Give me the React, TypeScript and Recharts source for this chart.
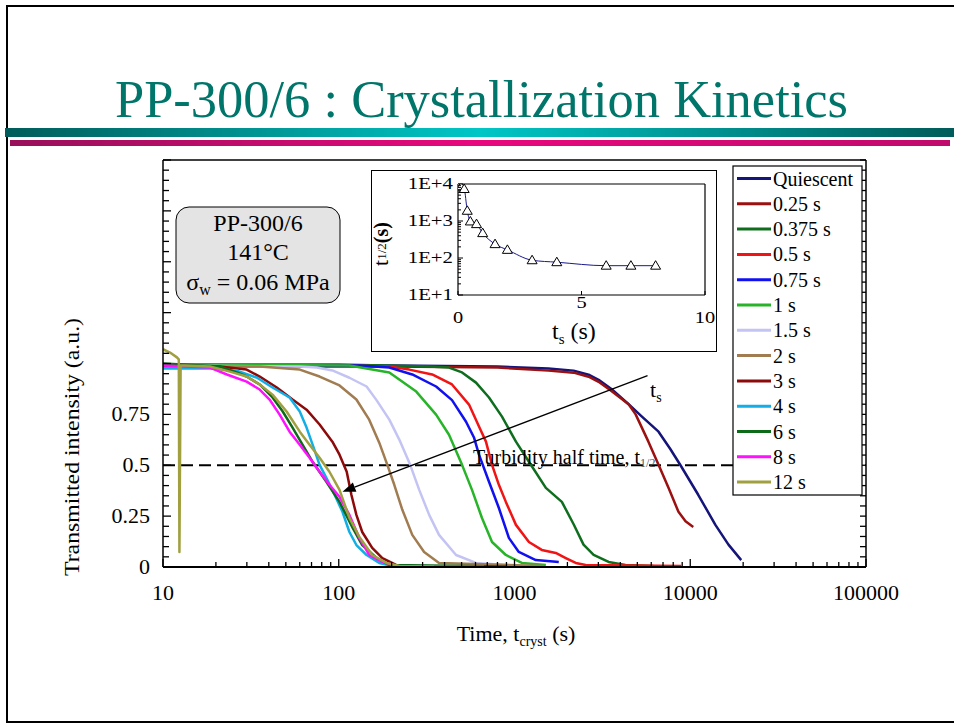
import React from "react";
import { LineChart, Line, XAxis, YAxis, ReferenceLine } from "recharts";

const FONT = "'Liberation Serif', 'Times New Roman', serif";

// ---- main chart: transmitted intensity vs crystallization time (s) ----
const quiescent: [number, number][] = [
  [10, 0.99], [50, 0.99], [200, 0.99], [800, 0.985], [1560, 0.975], [2170, 0.965],
  [2640, 0.945], [3010, 0.92], [3560, 0.875], [4460, 0.8], [5290, 0.74], [6600, 0.665],
  [7700, 0.58], [8800, 0.5], [11100, 0.355], [13900, 0.207], [16500, 0.11], [19500, 0.034],
];
const s025: [number, number][] = [
  [10, 0.985], [200, 0.985], [800, 0.98], [1560, 0.965], [2170, 0.955], [2640, 0.935],
  [3010, 0.91], [3560, 0.865], [4460, 0.8], [4890, 0.75], [5780, 0.616], [6600, 0.502],
  [7520, 0.389], [8570, 0.271], [9400, 0.225], [10400, 0.197],
];
const s0375: [number, number][] = [
  [10, 0.995], [100, 0.995], [327, 0.985], [424, 0.98], [503, 0.956], [604, 0.906],
  [716, 0.833], [849, 0.739], [1019, 0.616], [1208, 0.517], [1508, 0.389], [1860, 0.32],
  [2170, 0.21], [2470, 0.11], [2820, 0.06], [3430, 0.025], [4280, 0.01], [6170, 0.005],
];
const s05: [number, number][] = [
  [10, 0.99], [100, 0.99], [194, 0.985], [252, 0.97], [340, 0.946], [441, 0.897],
  [551, 0.798], [628, 0.69], [688, 0.616], [745, 0.502], [815, 0.404], [893, 0.32],
  [1019, 0.207], [1208, 0.123], [1429, 0.084], [1717, 0.069], [1958, 0.044], [2230, 0.02],
  [2541, 0.01], [8890, 0.005],
];
const s075: [number, number][] = [
  [10, 0.99], [131, 0.99], [194, 0.98], [262, 0.946], [358, 0.887], [441, 0.82],
  [530, 0.714], [589, 0.635], [628, 0.552], [716, 0.419], [815, 0.29], [929, 0.143],
  [1058, 0.074], [1321, 0.034], [1786, 0.025],
];
const s1: [number, number][] = [
  [10, 0.995], [115, 0.99], [194, 0.956], [276, 0.862], [358, 0.749], [424, 0.65],
  [503, 0.502], [573, 0.379], [653, 0.241], [745, 0.123], [893, 0.059], [1102, 0.02],
  [1508, 0.01],
];
const s15: [number, number][] = [
  [10, 0.99], [60, 0.985], [75, 0.98], [92, 0.966], [115, 0.93], [144, 0.887],
  [164, 0.82], [194, 0.724], [221, 0.626], [255, 0.502], [287, 0.379], [327, 0.256],
  [372, 0.158], [465, 0.059], [604, 0.02], [1058, 0.005],
];
const s2: [number, number][] = [
  [10, 0.985], [35.5, 0.985], [60, 0.97], [77.8, 0.936], [101, 0.892], [126, 0.823],
  [149, 0.724], [170, 0.611], [189, 0.502], [207, 0.404], [230, 0.281], [262, 0.158],
  [306, 0.074], [372, 0.02], [1469, 0.005],
];
const s3: [number, number][] = [
  [10, 0.99], [21, 0.985], [29.9, 0.97], [35.5, 0.936], [44.4, 0.882], [54.6, 0.823],
  [65.6, 0.773], [77.8, 0.7], [92, 0.616], [101, 0.552], [111, 0.468], [118, 0.355],
  [126, 0.256], [136, 0.172], [155, 0.094], [177, 0.044], [212, 0.01],
];
const s4: [number, number][] = [
  [10, 0.975], [18.5, 0.975], [26.3, 0.965], [34.1, 0.931], [42, 0.882], [52.5, 0.833],
  [60, 0.764], [65.6, 0.685], [71, 0.601], [77.8, 0.502], [85, 0.438], [92, 0.379],
  [105, 0.271], [115, 0.172], [126, 0.108], [144, 0.059], [170, 0.02], [202, 0.005],
  [265, 0.003],
];
const s6: [number, number][] = [
  [10, 1.0], [21, 0.985], [26.3, 0.956], [29.9, 0.936], [35.5, 0.897], [42, 0.833],
  [48, 0.764], [54.6, 0.685], [62.2, 0.601], [71, 0.517], [85, 0.419], [101, 0.32],
  [120, 0.192], [136, 0.108], [164, 0.044], [194, 0.01], [900, 0.003],
];
const s8: [number, number][] = [
  [10, 0.99], [18.5, 0.98], [23.1, 0.946], [29.9, 0.911], [35.5, 0.872], [40.4, 0.823],
  [46.1, 0.749], [52.5, 0.665], [60, 0.601], [68.2, 0.537], [77.8, 0.468], [88.5, 0.404],
  [101, 0.345], [115, 0.256], [131, 0.143], [149, 0.059], [177, 0.025], [212, 0.005],
  [670, 0.003],
];
const s12: [number, number][] = [
  [10, 1.07], [10.96, 1.054], [12, 1.03], [12.3, 1.02], [12.4, 0.074], [12.6, 0.99],
  [13.3, 0.99], [18.5, 0.985], [24, 0.96], [29.9, 0.936], [35.5, 0.897], [42, 0.847],
  [50.5, 0.764], [60, 0.665], [68.2, 0.601], [77.8, 0.537], [88.5, 0.468], [101, 0.379],
  [115, 0.241], [131, 0.148], [155, 0.059], [187, 0.02], [221, 0.005], [349, 0.003],
];

const seriesNames = [
  "Quiescent", "0.25 s", "0.375 s", "0.5 s", "0.75 s", "1 s", "1.5 s",
  "2 s", "3 s", "4 s", "6 s", "8 s", "12 s",
];
const seriesColors = [
  "#14147a", "#9c1010", "#0f6e1e", "#f01414", "#1010f0", "#28b428", "#c4c4f4",
  "#a07c50", "#8c0a0a", "#12aee6", "#0c6a18", "#ff10ff", "#a0a040",
];
const seriesPoints = [quiescent, s025, s0375, s05, s075, s1, s15, s2, s3, s4, s6, s8, s12];

const xMajorTicks = [10, 100, 1000, 10000, 100000];
const yLabelValues = [0, 0.25, 0.5, 0.75];
const yLabelTexts = ["0", "0.25", "0.5", "0.75"];

// ---- inset: turbidity half time vs shearing time ----
const insetTs = [0, 0.125, 0.25, 0.375, 0.5, 0.75, 1, 1.5, 2, 3, 4, 6, 7, 8];
const insetHalf = [8650, 8470, 7320, 1890, 973, 824, 470, 237, 166, 87, 77, 62, 62, 62];
const insetYMajor = [10, 100, 1000, 10000];
const insetYLabels = ["1E+1", "1E+2", "1E+3", "1E+4"];
const insetXTicks = [0, 5, 10];

const xTicks: number[] = [];
xMajorTicks.slice(0, -1).forEach((d) => {
  for (let k = 1; k < 10; k++) xTicks.push(d * k);
});
xTicks.push(100000);
const yTicks = Array.from({ length: 41 }, (_, i) => Math.round(i * 5) / 100);

const insetYTicks: number[] = [];
insetYMajor.slice(0, -1).forEach((d) => {
  for (let k = 1; k < 10; k++) insetYTicks.push(d * k);
});
insetYTicks.push(10000);

const insetData = insetTs.map((t, i) => ({ t, h: insetHalf[i] }));

function XTick(props: any) {
  const { x, y, payload } = props;
  const v = payload.value;
  const major = xMajorTicks.includes(v);
  return (
    <g>
      <line x1={x} x2={x} y1={y} y2={y - (major ? 8 : 5)} stroke="#000" strokeWidth={1.3} />
      {major && (
        <text x={x} y={y + 33} textAnchor="middle" fontSize={22} fontFamily={FONT} fill="#000">
          {v}
        </text>
      )}
    </g>
  );
}

function LeftTick(props: any) {
  const { x, y, payload } = props;
  const v = Math.round(payload.value * 100) / 100;
  const idx = yLabelValues.indexOf(v);
  const major = Math.abs(v * 4 - Math.round(v * 4)) < 1e-6;
  return (
    <g>
      <line x1={x} x2={x + (major ? 8 : 6)} y1={y} y2={y} stroke="#000" strokeWidth={1.3} />
      {idx >= 0 && (
        <text x={x - 13} y={y + 7} textAnchor="end" fontSize={22} fontFamily={FONT} fill="#000">
          {yLabelTexts[idx]}
        </text>
      )}
    </g>
  );
}

function RightTick(props: any) {
  const { x, y } = props;
  return <line x1={x} x2={x - 6} y1={y} y2={y} stroke="#000" strokeWidth={1.3} />;
}

function InsetYTick(props: any) {
  const { x, y, payload } = props;
  const v = payload.value;
  const idx = insetYMajor.indexOf(v);
  return (
    <g>
      <line x1={x} x2={x + (idx >= 0 ? 5 : 3)} y1={y} y2={y} stroke="#000" strokeWidth={1} />
      {idx >= 0 && (
        <text
          transform={`translate(${x - 5},${y + 5}) scale(1.3,1)`}
          textAnchor="end"
          fontSize={16}
          fontFamily={FONT}
          fill="#000"
        >
          {insetYLabels[idx]}
        </text>
      )}
    </g>
  );
}

function InsetXTick(props: any) {
  const { x, y, payload } = props;
  const v = payload.value;
  return (
    <g>
      <line x1={x} x2={x} y1={y} y2={y - 4} stroke="#000" strokeWidth={1} />
      <text
        transform={`translate(${x},${y + (v === 5 ? 13 : 28)}) scale(1.2,1)`}
        textAnchor="middle"
        fontSize={17}
        fontFamily={FONT}
        fill="#000"
      >
        {v}
      </text>
    </g>
  );
}

function Triangle(props: any) {
  const { cx, cy, index } = props;
  if (cx == null || cy == null) return <g key={index} />;
  return (
    <polygon
      key={index}
      points={`${cx},${cy - 5} ${cx - 5},${cy + 3.5} ${cx + 5},${cy + 3.5}`}
      fill="#fff"
      stroke="#000"
      strokeWidth={1}
    />
  );
}

function Arrow(props: any) {
  const { x1, y1, x2, y2 } = props;
  const a = Math.atan2(y2 - y1, x2 - x1);
  const L = 13;
  const W = 5;
  const bx = x2 - L * Math.cos(a);
  const by = y2 - L * Math.sin(a);
  const px = -Math.sin(a) * W;
  const py = Math.cos(a) * W;
  return (
    <g>
      <line x1={x1} y1={y1} x2={bx} y2={by} stroke="#000" strokeWidth={1.3} />
      <polygon points={`${x2},${y2} ${bx + px},${by + py} ${bx - px},${by - py}`} fill="#000" />
    </g>
  );
}

export default function App() {
  return (
    <div style={{ position: "absolute", left: 0, top: 0, width: 954, height: 724, background: "#fff", overflow: "hidden" }}>
      <div style={{ position: "absolute", left: 0, top: 0 }}>
        <LineChart width={954} height={724} margin={{ top: 160, right: 78, bottom: 97, left: 103 }}>
          <XAxis
            dataKey="t"
            type="number"
            scale="log"
            domain={[10, 100000]}
            allowDataOverflow
            ticks={xTicks}
            interval={0}
            tickSize={0}
            tickMargin={0}
            tick={<XTick />}
            tickLine={false}
            axisLine={{ stroke: "#000", strokeWidth: 2 }}
            height={60}
          />
          <YAxis
            yAxisId="l"
            type="number"
            domain={[0, 2]}
            allowDataOverflow
            ticks={yTicks}
            interval={0}
            tickSize={0}
            tickMargin={0}
            tick={<LeftTick />}
            tickLine={false}
            axisLine={{ stroke: "#000", strokeWidth: 1.5 }}
            width={60}
          />
          <YAxis
            yAxisId="r"
            orientation="right"
            type="number"
            domain={[0, 2]}
            allowDataOverflow
            ticks={yTicks}
            interval={0}
            tickSize={0}
            tickMargin={0}
            tick={<RightTick />}
            tickLine={false}
            axisLine={{ stroke: "#000", strokeWidth: 1.5 }}
            width={10}
          />
          <ReferenceLine yAxisId="l" y={2} stroke="#000" strokeWidth={1.5} />
          <ReferenceLine yAxisId="l" y={0.5} stroke="#000" strokeWidth={2} strokeDasharray="12 6" />
          {seriesPoints.map((pts, i) => (
            <Line
              key={seriesNames[i]}
              yAxisId="l"
              data={pts.map(([t, v]) => ({ t, v }))}
              dataKey="v"
              type="linear"
              stroke={seriesColors[i]}
              strokeWidth={2.5}
              strokeLinejoin="round"
              dot={false}
              activeDot={false}
              isAnimationActive={false}
            />
          ))}
          <ReferenceLine
            yAxisId="l"
            segment={[{ x: 5715, y: 0.94 }, { x: 105, y: 0.37 }]}
            stroke="#000"
            shape={<Arrow />}
          />
        </LineChart>
      </div>

      <svg width={954} height={724} style={{ position: "absolute", left: 0, top: 0, pointerEvents: "none" }} fontFamily={FONT}>
        <defs>
          <linearGradient id="teal" x1="0" x2="1" y1="0" y2="0">
            <stop offset="0%" stopColor="#005c5a" />
            <stop offset="50%" stopColor="#00c6c6" />
            <stop offset="100%" stopColor="#005c5a" />
          </linearGradient>
          <linearGradient id="mag" x1="0" x2="1" y1="0" y2="0">
            <stop offset="0%" stopColor="#98105a" />
            <stop offset="50%" stopColor="#e8087e" />
            <stop offset="100%" stopColor="#c00a6c" />
          </linearGradient>
        </defs>
        <path d="M 960 6 H 7 V 722 H 960" fill="none" stroke="#000" strokeWidth={2} />
        <text x={115} y={117} fontSize={52} fill="#00756a" textLength={733} lengthAdjust="spacingAndGlyphs">
          PP-300/6 : Crystallization Kinetics
        </text>
        <rect x={5} y={128} width={949} height={9} fill="url(#teal)" />
        <rect x={10} y={140} width={940} height={6} fill="url(#mag)" />

        <rect x={176} y={207} width={164} height={96} rx={13} fill="#e4e4e4" stroke="#000" strokeWidth={1} />
        <text x={258} y={231} textAnchor="middle" fontSize={24}>PP-300/6</text>
        <text x={258} y={260} textAnchor="middle" fontSize={24}>141°C</text>
        <text x={258} y={290} textAnchor="middle" fontSize={24}>
          σ<tspan fontSize={16} dy={5}>w</tspan>
          <tspan dy={-5}> = 0.06 MPa</tspan>
        </text>

        <text transform="translate(79,447) rotate(-90)" textAnchor="middle" fontSize={22} textLength={258} lengthAdjust="spacingAndGlyphs">
          Transmitted intensity (a.u.)
        </text>
        <text x={516} y={641} textAnchor="middle" fontSize={22}>
          Time, t<tspan fontSize={14} dy={5}>cryst</tspan>
          <tspan dy={-5}> (s)</tspan>
        </text>
        <text x={473} y={464} fontSize={20}>
          Turbidity half time, t<tspan fontSize={12} dy={3} fill="#555">1/2</tspan>
        </text>
        <text x={650} y={397} fontSize={22}>
          t<tspan fontSize={14} dy={5}>s</tspan>
        </text>

        <rect x={733} y={166} width={129} height={329} fill="#fff" stroke="#000" strokeWidth={1.2} />
        {seriesNames.map((name, i) => {
          const cy = 178.5 + i * 25.3;
          return (
            <g key={name}>
              <line x1={737} x2={771} y1={cy} y2={cy} stroke={seriesColors[i]} strokeWidth={3} />
              <text x={773} y={cy + 7} fontSize={20}>{name}</text>
            </g>
          );
        })}
      </svg>

      <div
        style={{
          position: "absolute",
          left: 371,
          top: 170,
          width: 346,
          height: 182,
          border: "1.5px solid #000",
          boxSizing: "border-box",
          background: "#fff",
        }}
      />
      <div style={{ position: "absolute", left: 371, top: 170 }}>
        <LineChart width={346} height={182} data={insetData} margin={{ top: 14, right: 12, bottom: 17, left: 27 }}>
          <XAxis
            dataKey="t"
            type="number"
            domain={[0, 10]}
            allowDataOverflow
            ticks={insetXTicks}
            interval={0}
            tickSize={0}
            tickMargin={0}
            tick={<InsetXTick />}
            tickLine={false}
            axisLine={{ stroke: "#000", strokeWidth: 1.2 }}
            height={40}
          />
          <YAxis
            type="number"
            scale="log"
            domain={[10, 10000]}
            allowDataOverflow
            ticks={insetYTicks}
            interval={0}
            tickSize={0}
            tickMargin={0}
            tick={<InsetYTick />}
            tickLine={false}
            axisLine={{ stroke: "#000", strokeWidth: 1.2 }}
            width={60}
          />
          <ReferenceLine y={10000} stroke="#000" strokeWidth={1.2} />
          <ReferenceLine x={10} stroke="#000" strokeWidth={1.2} />
          <Line
            dataKey="h"
            type="monotone"
            stroke="#1a1a8c"
            strokeWidth={1}
            dot={<Triangle />}
            activeDot={false}
            isAnimationActive={false}
          />
        </LineChart>
      </div>
      <svg width={954} height={724} style={{ position: "absolute", left: 0, top: 0, pointerEvents: "none" }} fontFamily={FONT}>
        <text x={552} y={339} fontSize={24}>
          t<tspan fontSize={15} dy={5}>s</tspan>
          <tspan dy={-5}> (s)</tspan>
        </text>
        <text transform="translate(388,244) rotate(-90)" textAnchor="middle" fontSize={22}>
          t<tspan fontSize={13} dy={-2}>1/2</tspan>
          <tspan fontWeight="bold" fontSize={20} dy={2}>(s)</tspan>
        </text>
      </svg>
    </div>
  );
}
